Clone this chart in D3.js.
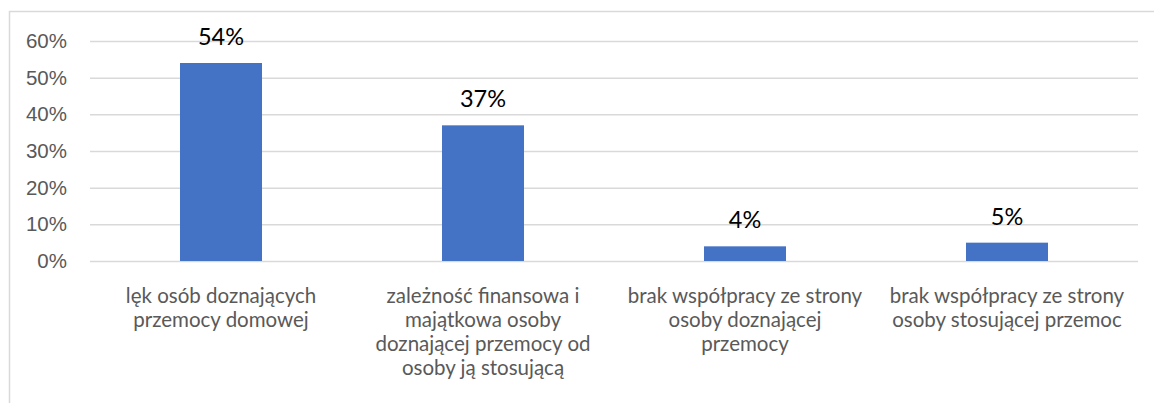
<!DOCTYPE html>
<html>
<head>
<meta charset="utf-8">
<script src="https://cdn.jsdelivr.net/npm/d3@7"></script>
<style>
  body { margin: 0; background: #fff; }
  svg { display: block; font-family: "Lato", "Open Sans", sans-serif; }
</style>
</head>
<body>
<div id="chart"></div>
<script>
// data
const categories = [
  "lęk osób doznających przemocy domowej",
  "zależność finansowa i majątkowa osoby doznającej przemocy od osoby ją stosującą",
  "brak współpracy ze strony osoby doznającej przemocy",
  "brak współpracy ze strony osoby stosującej przemoc"
];
const labelLines = [
  ["lęk osób doznających", "przemocy domowej"],
  ["zależność finansowa i", "majątkowa osoby", "doznającej przemocy od", "osoby ją stosującą"],
  ["brak współpracy ze strony", "osoby doznającej", "przemocy"],
  ["brak współpracy ze strony", "osoby stosującej przemoc"]
];
const values = [0.54, 0.37, 0.04, 0.05];
const yTicks = [0, 0.1, 0.2, 0.3, 0.4, 0.5, 0.6];

const W = 1154, H = 403;
const margin = {top: 41, right: 16, bottom: 142, left: 90};

const svg = d3.select("#chart").append("svg")
  .attr("width", W).attr("height", H);

// chart frame (cut off at right and bottom in the original)
svg.append("rect")
  .attr("x", 9.5).attr("y", 11.5)
  .attr("width", W + 10).attr("height", H + 10)
  .attr("fill", "none").attr("stroke", "#d9d9d9").attr("stroke-width", 1.5);

const x = d3.scaleBand()
  .domain(categories)
  .range([margin.left, W - margin.right])
  .padding(0);

const y = d3.scaleLinear()
  .domain([0, 0.6])
  .range([H - margin.bottom, margin.top]);

// gridlines + y labels
const yAxis = svg.append("g")
  .attr("transform", `translate(${margin.left},0)`)
  .call(d3.axisLeft(y)
    .tickValues(yTicks)
    .tickSize(-(W - margin.left - margin.right))
    .tickPadding(23)
    .tickFormat(d3.format(".0%")));
yAxis.select(".domain").remove();
yAxis.selectAll(".tick line").attr("stroke", "#d9d9d9").attr("stroke-width", 1.5);
yAxis.selectAll(".tick text")
  .attr("fill", "#595959")
  .style("font-size", "20.5px");

const barW = x.bandwidth() * 0.313;

svg.selectAll(".bar")
  .data(values)
  .join("rect")
  .attr("class", "bar")
  .attr("x", (d, i) => x(categories[i]) + x.bandwidth() / 2 - barW / 2)
  .attr("y", d => y(d))
  .attr("width", barW)
  .attr("height", d => y(0) - y(d))
  .attr("fill", "#4472c4");

// value labels
svg.selectAll(".val")
  .data(values)
  .join("text")
  .attr("class", "val")
  .attr("x", (d, i) => x(categories[i]) + x.bandwidth() / 2)
  .attr("y", d => y(d) - 18)
  .attr("text-anchor", "middle")
  .attr("fill", "#000")
  .style("font-size", "23.5px")
  .text(d => d3.format(".0%")(d));

// category labels
const cat = svg.selectAll(".cat")
  .data(labelLines)
  .join("text")
  .attr("class", "cat")
  .attr("text-anchor", "middle")
  .attr("fill", "#595959")
  .style("font-size", "20.5px");
cat.each(function(lines, i) {
  const t = d3.select(this);
  lines.forEach((ln, j) => {
    t.append("tspan")
      .attr("x", x(categories[i]) + x.bandwidth() / 2)
      .attr("y", y(0) + 42 + j * 24)
      .text(ln);
  });
});
</script>
</body>
</html>
